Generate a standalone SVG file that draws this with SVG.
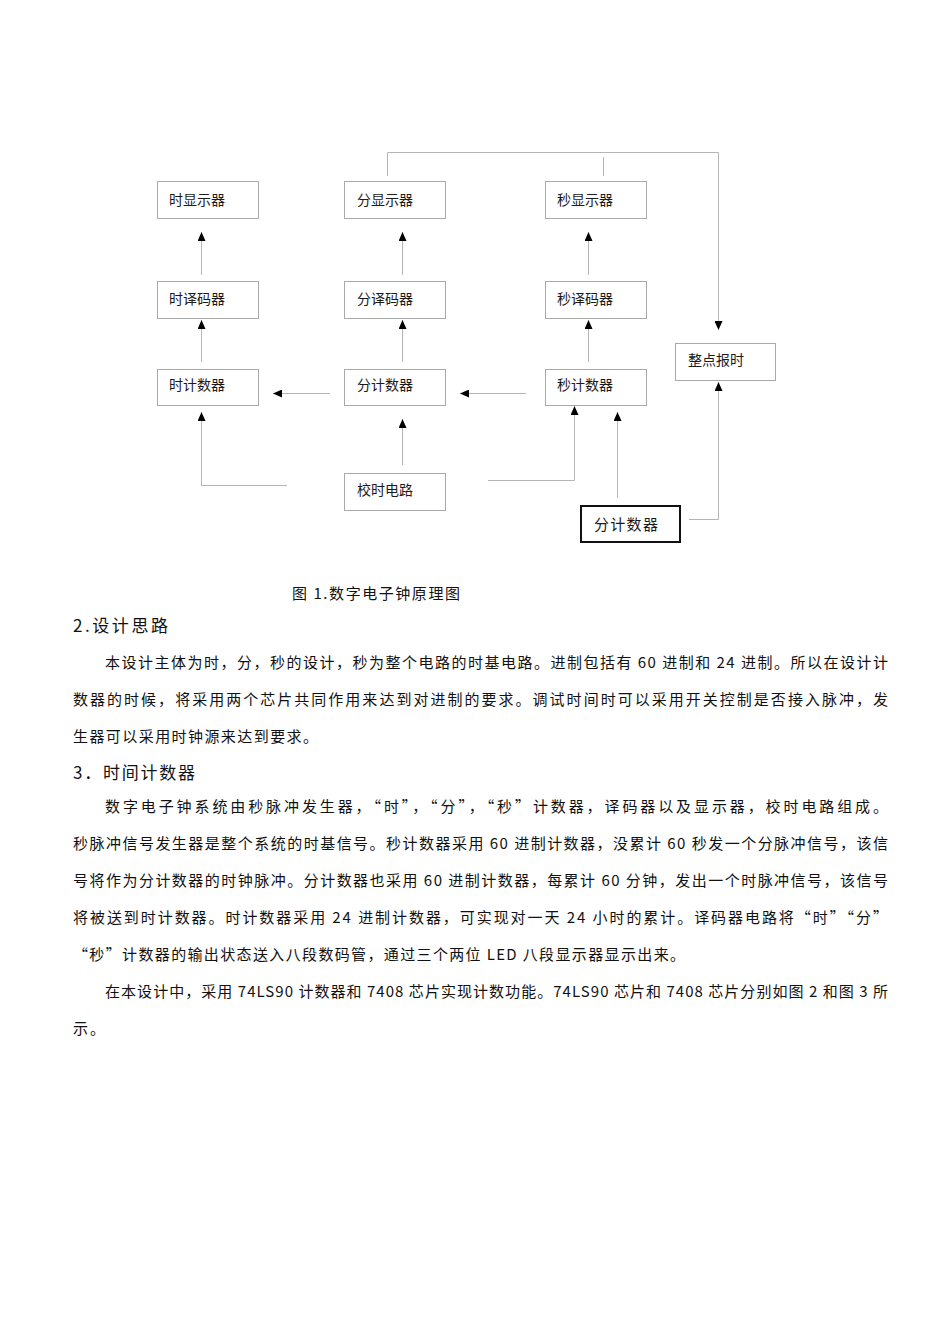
<svg xmlns="http://www.w3.org/2000/svg" width="950" height="1344" viewBox="0 0 950 1344">
<defs>
<style>
.box{fill:#fff;stroke:#a9a9a9;stroke-width:1}
.bold{fill:#fff;stroke:#111;stroke-width:2}
.lbl{font-family:'Noto Sans CJK SC',sans-serif;font-size:14px;fill:#1a1a1a}
.con{fill:none;stroke:#b5b5b5;stroke-width:1;marker-end:url(#ah)}
.plain{fill:none;stroke:#b5b5b5;stroke-width:1}
.body{font-family:'Noto Sans CJK SC',sans-serif;font-size:15px;fill:#111}
.head{font-family:'Noto Sans CJK SC',sans-serif;font-size:17px;fill:#111}
</style>
<marker id="ah" markerUnits="userSpaceOnUse" markerWidth="9" markerHeight="8" refX="9" refY="4" orient="auto"><path d="M0,0 L9,4 L0,8 z" fill="#000"/></marker>
</defs>
<rect width="950" height="1344" fill="#fff"/>
<g id="connectors">
<line class="con" x1="201.5" y1="275" x2="201.5" y2="232"/>
<line class="con" x1="201.5" y1="362" x2="201.5" y2="320"/>
<line class="con" x1="402.5" y1="275" x2="402.5" y2="232"/>
<line class="con" x1="402.5" y1="362" x2="402.5" y2="320"/>
<line class="con" x1="588.5" y1="275" x2="588.5" y2="232"/>
<line class="con" x1="588.5" y1="362" x2="588.5" y2="320"/>
<line class="con" x1="330" y1="393.5" x2="273" y2="393.5"/>
<line class="con" x1="526" y1="393.5" x2="460" y2="393.5"/>
<polyline class="con" points="387.5,176 387.5,152.5 718.5,152.5 718.5,330"/>
<line class="plain" x1="603.5" y1="157" x2="603.5" y2="176"/>
<polyline class="con" points="287,485.5 201.5,485.5 201.5,412"/>
<line class="con" x1="402.5" y1="465" x2="402.5" y2="419"/>
<polyline class="con" points="488,480.5 574.5,480.5 574.5,406"/>
<line class="con" x1="617.5" y1="498" x2="617.5" y2="412"/>
<polyline class="con" points="689,519.5 718.5,519.5 718.5,382"/>
</g>
<g id="hour-display"><rect class="box" x="157.5" y="181.5" width="101" height="37"/><text class="lbl" x="169" y="204.5">时显示器</text></g>
<g id="minute-display"><rect class="box" x="344.5" y="181.5" width="101" height="37"/><text class="lbl" x="357" y="204.5">分显示器</text></g>
<g id="second-display"><rect class="box" x="545.5" y="181.5" width="101" height="37"/><text class="lbl" x="557" y="204.5">秒显示器</text></g>
<g id="hour-decoder"><rect class="box" x="157.5" y="281.5" width="101" height="37"/><text class="lbl" x="169" y="303.5">时译码器</text></g>
<g id="minute-decoder"><rect class="box" x="344.5" y="281.5" width="101" height="37"/><text class="lbl" x="357" y="303.5">分译码器</text></g>
<g id="second-decoder"><rect class="box" x="545.5" y="281.5" width="101" height="37"/><text class="lbl" x="557" y="303.5">秒译码器</text></g>
<g id="hour-counter"><rect class="box" x="157.5" y="369.5" width="101" height="36"/><text class="lbl" x="169" y="390.3">时计数器</text></g>
<g id="minute-counter"><rect class="box" x="344.5" y="369.5" width="101" height="36"/><text class="lbl" x="357" y="390.3">分计数器</text></g>
<g id="second-counter"><rect class="box" x="545.5" y="369.5" width="101" height="36"/><text class="lbl" x="557" y="390.3">秒计数器</text></g>
<g id="hourly-chime"><rect class="box" x="675.5" y="343.5" width="100" height="37"/><text class="lbl" x="688" y="365.3">整点报时</text></g>
<g id="time-adjust"><rect class="box" x="344.5" y="473.5" width="101" height="37"/><text class="lbl" x="357" y="495.3">校时电路</text></g>
<g id="minute-counter-2"><rect class="bold" x="581" y="506" width="99" height="36"/><text class="lbl" x="594" y="529.7" style="font-size:15px;letter-spacing:1.3px">分计数器</text></g>
<g id="caption"><text class="body" x="292" y="598.7" textLength="168" lengthAdjust="spacing">图 1.数字电子钟原理图</text></g>
<g id="text">
<text class="head" x="73" y="631.5" textLength="95" lengthAdjust="spacing">2.设计思路</text>
<text class="body" x="105" y="667.7" textLength="783" lengthAdjust="spacing">本设计主体为时，分，秒的设计，秒为整个电路的时基电路。进制包括有 60 进制和 24 进制。所以在设计计</text>
<text class="body" x="73" y="704.7" textLength="815" lengthAdjust="spacing">数器的时候，将采用两个芯片共同作用来达到对进制的要求。调试时间时可以采用开关控制是否接入脉冲，发</text>
<text class="body" x="73" y="741.7" textLength="245" lengthAdjust="spacing">生器可以采用时钟源来达到要求。</text>
<text class="head" x="73" y="778.5" textLength="122" lengthAdjust="spacing">3．时间计数器</text>
<text class="body" x="105" y="811.7" textLength="783" lengthAdjust="spacing">数字电子钟系统由秒脉冲发生器，“时”，“分”，“秒”计数器，译码器以及显示器，校时电路组成。</text>
<text class="body" x="73" y="848.7" textLength="815" lengthAdjust="spacing">秒脉冲信号发生器是整个系统的时基信号。秒计数器采用 60 进制计数器，没累计 60 秒发一个分脉冲信号，该信</text>
<text class="body" x="73" y="885.7" textLength="815" lengthAdjust="spacing">号将作为分计数器的时钟脉冲。分计数器也采用 60 进制计数器，每累计 60 分钟，发出一个时脉冲信号，该信号</text>
<text class="body" x="73" y="922.7" textLength="815" lengthAdjust="spacing">将被送到时计数器。时计数器采用 24 进制计数器，可实现对一天 24 小时的累计。译码器电路将“时”“分”</text>
<text class="body" x="73" y="959.7" textLength="612" lengthAdjust="spacing">“秒”计数器的输出状态送入八段数码管，通过三个两位 LED 八段显示器显示出来。</text>
<text class="body" x="105" y="996.7" textLength="783" lengthAdjust="spacing">在本设计中，采用 74LS90 计数器和 7408 芯片实现计数功能。74LS90 芯片和 7408 芯片分别如图 2 和图 3 所</text>
<text class="body" x="73" y="1033.7" style="letter-spacing:2px">示。</text>
</g>
</svg>
